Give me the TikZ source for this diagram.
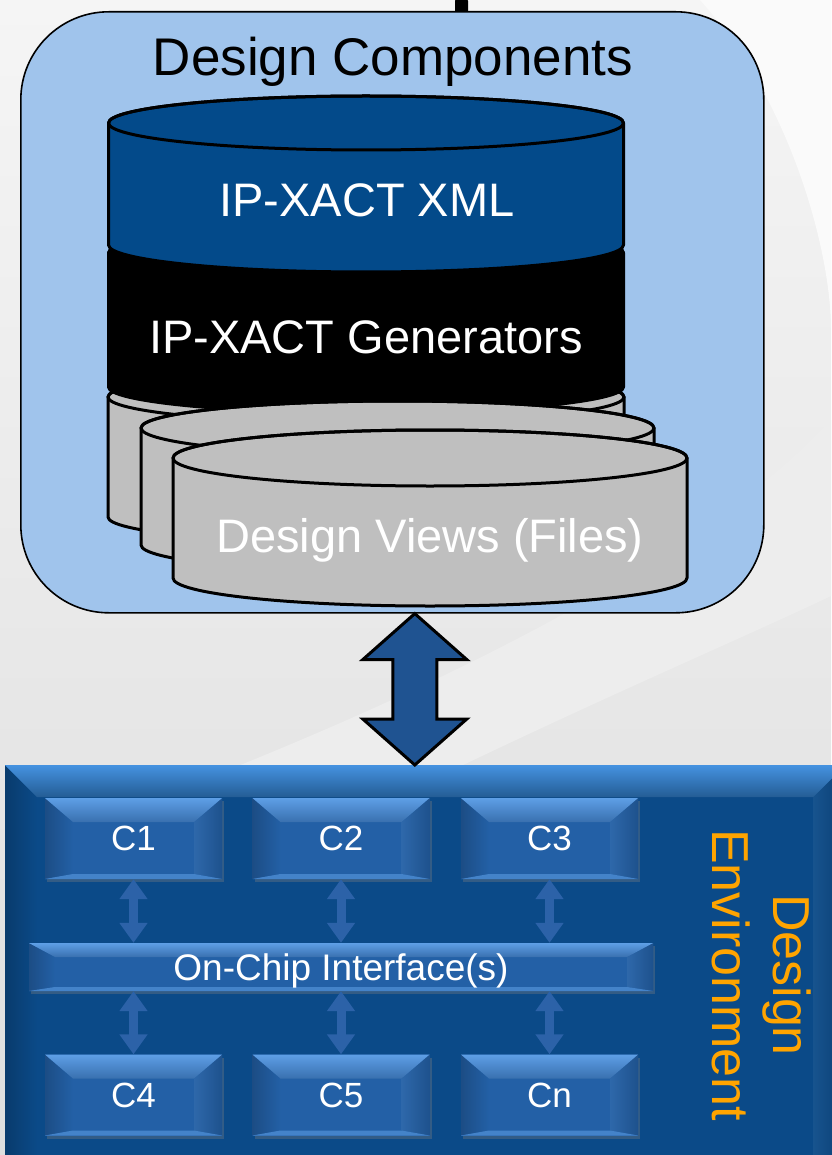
\documentclass[tikz,border=0pt]{standalone}
\usepackage{fontspec}
\setmainfont{Liberation Sans}
\usetikzlibrary{calc,arrows.meta,shadows}

\definecolor{bgtop}{HTML}{F5F5F5}
\definecolor{bgbot}{HTML}{DEDEDE}
\definecolor{bgband}{HTML}{EDEDED}
\definecolor{bgwhite}{HTML}{FAFAFA}
\definecolor{outerfill}{HTML}{A0C4EC}
\definecolor{cylblue}{HTML}{034A8A}
\definecolor{cylgray}{HTML}{BFBFBF}
\definecolor{arrowblue}{HTML}{1F5391}
\definecolor{panelblue}{HTML}{0B4A88}
\definecolor{panelhi}{HTML}{4592E0}
\definecolor{boxblue}{HTML}{2360A6}
\definecolor{boxhi}{HTML}{5E9FE6}
\definecolor{linkblue}{HTML}{2C62A8}
\definecolor{envorange}{HTML}{FFA400}

% cylinder: fill, centre x, half width, top y, bottom y, rim radius
\newcommand\drawcyl[6]{%
  \filldraw[cylline, fill=#1] ({#2-#3},{-#4}) -- ({#2-#3},{-#5})
    arc[start angle=180, end angle=360, x radius=#3, y radius=#6]
    -- ({#2+#3},{-#4})
    arc[start angle=0, end angle=180, x radius=#3, y radius=#6] -- cycle;
  \draw[cylline] (#2,-#4) ellipse[x radius=#3, y radius=#6];
}

\tikzset{
  cylline/.style={line width=3pt, line join=round},
  bevel x/.store in=\bvx, bevel top/.store in=\bvt, bevel bot/.store in=\bvb,
  bevel hi/.store in=\bvhi, bevel face/.store in=\bvface,
  bevel x=28pt, bevel top=24pt, bevel bot=5pt, bevel hi=boxhi, bevel face=boxblue,
  bevelled/.style={path picture={
    \path (path picture bounding box.north west) coordinate (bNW)
          (path picture bounding box.north east) coordinate (bNE)
          (path picture bounding box.south west) coordinate (bSW)
          (path picture bounding box.south east) coordinate (bSE);
    \fill[left color=\bvface!80!black, right color=\bvface]
      (bNW) -- ($(bNW)+(\bvx,-\bvt)$) -- ($(bSW)+(\bvx,\bvb)$) -- (bSW) -- cycle;
    \fill[left color=\bvface!95!white, right color=\bvface!85!black]
      (bNE) -- (bSE) -- ($(bSE)+(-\bvx,\bvb)$) -- ($(bNE)+(-\bvx,-\bvt)$) -- cycle;
    \fill[top color=\bvhi, bottom color=\bvface!90!white]
      (bNW) -- (bNE) -- ($(bNE)+(-\bvx,-\bvt)$) -- ($(bNW)+(\bvx,-\bvt)$) -- cycle;
    \fill[\bvhi!55!\bvface]
      (bSW) -- (bSE) -- ($(bSE)+(-\bvx,\bvb)$) -- ($(bSW)+(\bvx,\bvb)$) -- cycle;
  }},
  outerbox/.style={draw=black, line width=1.6pt, fill=outerfill, rounded corners=88pt,
    inner sep=0pt},
  cyltext/.style={text=white, font=\fontsize{47}{56}\selectfont, inner sep=0pt},
  panel/.style={fill=panelblue, bevelled, bevel x=32pt, bevel top=32pt, bevel bot=0pt,
    bevel hi=panelhi, bevel face=panelblue, inner sep=0pt},
  cbox/.style={fill=boxblue, bevelled, minimum width=177pt, minimum height=81pt,
    inner sep=0pt, text=white, font=\fontsize{35}{42}\selectfont, text depth=0pt,
    drop shadow={opacity=0.35, shadow xshift=2pt, shadow yshift=-3pt}},
  barbox/.style={fill=boxblue, bevelled, bevel x=26pt, bevel top=14pt, bevel bot=4pt,
    minimum width=624pt, minimum height=48pt, inner sep=0pt, text=white,
    font=\fontsize{37}{44}\selectfont, text depth=0pt,
    drop shadow={opacity=0.35, shadow xshift=2pt, shadow yshift=-3pt}},
  linkarrow/.style={draw=linkblue, line width=9pt,
    {Triangle[width=27pt,length=20pt]}-{Triangle[width=27pt,length=20pt]}},
  bigarrow/.style={fill=arrowblue, draw=black, line width=3pt, line join=miter},
}

\begin{document}
\begin{tikzpicture}[x=1pt, y=1pt]
\useasboundingbox (0,0) rectangle (831,-1155);

% backdrop with soft swooshes
\fill[top color=bgtop, bottom color=bgbot] (0,0) rectangle (831,-1155);
\fill[bgband] (238,-766) .. controls (450,-680) and (700,-560) .. (831,-420)
  -- (831,-596) .. controls (760,-630) and (620,-690) .. (461,-766) -- cycle;
\fill[bgwhite] (700,0) .. controls (790,-100) and (831,-250) .. (831,-330) -- (831,0) -- cycle;
\fill[black, rounded corners=3pt] (455,2) -- (455,-15) -- (468,-15) -- (468,2) -- cycle;

% design components container
\node[outerbox, minimum width=743pt, minimum height=601pt, anchor=north west]
  (dc) at (20,-11) {};
\node[anchor=base, font=\fontsize{53}{63}\selectfont, inner sep=0pt]
  (dctitle) at (393,-76) {Design Components};

% stacked cylinders, back to front
\drawcyl{cylgray}{366}{258}{397}{517}{26}
\drawcyl{black}{366}{257.5}{253}{387}{26}
\drawcyl{cylblue}{366}{257.5}{123}{245}{27}
\drawcyl{cylgray}{397.5}{256.5}{428}{545}{27}
\drawcyl{cylgray}{430}{257}{458}{578}{28}

\node[cyltext, anchor=base] (xml) at (367,-217) {IP-XACT XML};
\node[cyltext, anchor=base] (gen) at (366,-353) {IP-XACT Generators};
\node[cyltext, anchor=base] (views) at (430,-552) {Design Views (Files)};

% design environment panel
\node[panel, minimum width=840pt, minimum height=410pt, anchor=north west]
  (env) at (5,-765) {};

% exchange arrow between the two levels
\path ($(dc.south)+(22.5,0)$) coordinate (atop);
\path (env.north -| atop) coordinate (abot);
\filldraw[bigarrow] (atop) -- ++(-52,-46) -- ++(30,0) -- ($(abot)+(-22,46)$)
  -- ++(-30,0) -- (abot) -- ++(52,46) -- ++(-30,0) -- ($(atop)+(22,-46)$)
  -- ++(30,0) -- cycle;

% components and interconnect
\node[cbox] (c1) at (133.5,-838.5) {C1};
\node[cbox] (c2) at (341,-838.5) {C2};
\node[cbox] (c3) at (549.5,-838.5) {C3};
\node[cbox] (c4) at (133.5,-1095) {C4};
\node[cbox] (c5) at (341,-1095) {C5};
\node[cbox] (cn) at (549.5,-1095) {Cn};
\node[barbox] (bus) at (341,-967) {On-Chip Interface(s)};

\foreach \c in {c1,c2,c3}
  \draw[linkarrow] (\c.south) -- (bus.north -| \c.south);
\foreach \c in {c4,c5,cn}
  \draw[linkarrow] (\c.north) -- (bus.south -| \c.north);

\node[rotate=-90, text=envorange, font=\fontsize{52}{61}\selectfont, align=center,
  inner sep=0pt] (envlabel) at (762,-975) {Design\\Environment};
\end{tikzpicture}
\end{document}
